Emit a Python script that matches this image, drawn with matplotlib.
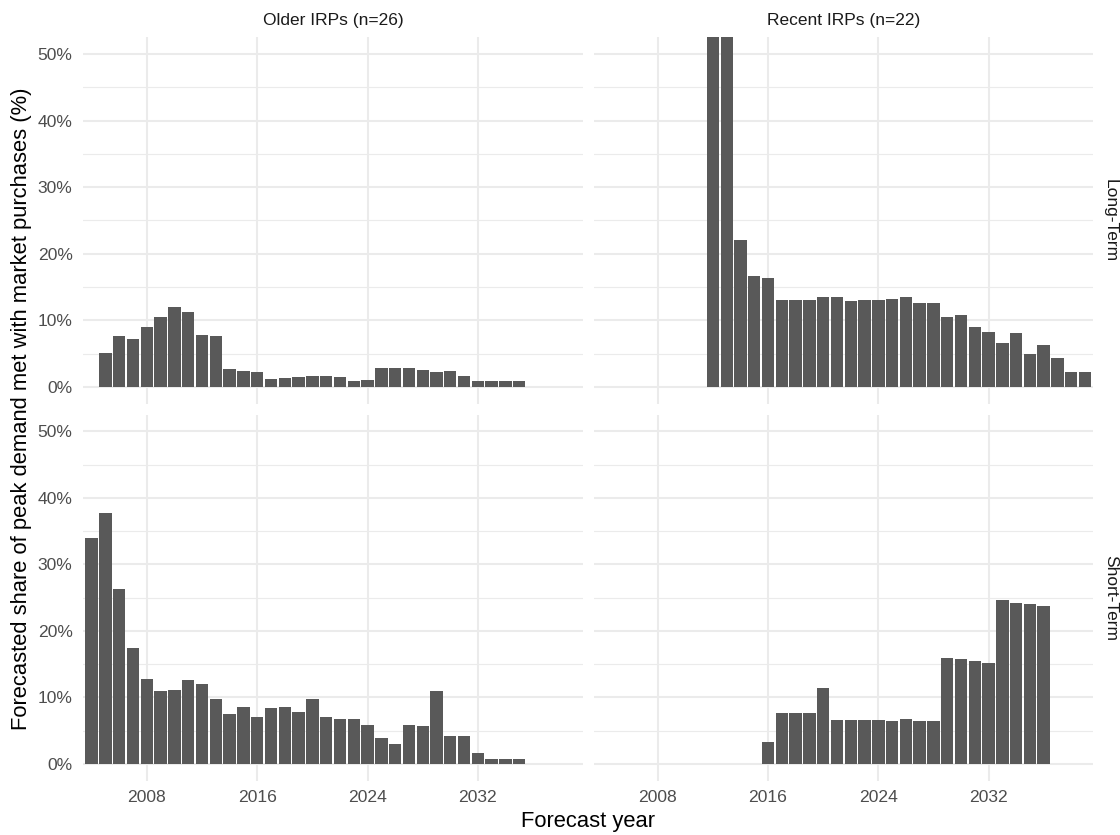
import numpy as np
import matplotlib
matplotlib.use("Agg")
import matplotlib.pyplot as plt
from matplotlib.ticker import FuncFormatter, MultipleLocator

plt.rcParams['font.family'] = ['Liberation Sans', 'DejaVu Sans']

# share of peak demand met with market purchases (%), one value per forecast year
older_long_start = 2005
older_long = [5.15, 7.6, 7.2, 8.95, 10.45, 11.95, 11.25, 7.75, 7.6, 2.7, 2.4, 2.2,
              1.15, 1.3, 1.45, 1.6, 1.65, 1.45, 0.95, 1.05, 2.9, 2.9, 2.8, 2.55,
              2.3, 2.4, 1.65, 0.95, 0.95, 0.95, 0.95]

recent_long_start = 2012
recent_long = [55.0, 55.0, 22.1, 16.65, 16.35, 13.0, 13.1, 13.0, 13.55, 13.45,
               12.9, 13.0, 13.0, 13.2, 13.45, 12.55, 12.55, 10.5, 10.85, 9.0,
               8.25, 6.55, 8.1, 4.95, 6.35, 4.4, 2.3, 2.2]

older_short_start = 2004
older_short = [33.9, 37.7, 26.3, 17.4, 12.8, 10.9, 11.1, 12.6, 12.0, 9.7, 7.5, 8.6,
               7.1, 8.4, 8.5, 7.8, 9.7, 7.1, 6.7, 6.7, 5.9, 3.95, 3.05, 5.85,
               5.75, 10.9, 4.25, 4.15, 1.7, 0.7, 0.7, 0.7]

recent_short_start = 2016
recent_short = [3.35, 7.7, 7.6, 7.6, 11.45, 6.65, 6.6, 6.6, 6.6, 6.5, 6.75, 6.5,
                6.45, 15.95, 15.75, 15.5, 15.25, 24.65, 24.25, 24.0, 23.7]

col_labels = ["Older IRPs (n=26)", "Recent IRPs (n=22)"]
row_labels = ["Long-Term", "Short-Term"]
x_ticks = [2008, 2016, 2024, 2032]
y_ticks = [0, 10, 20, 30, 40, 50]

panels = [[(older_long_start, older_long), (recent_long_start, recent_long)],
          [(older_short_start, older_short), (recent_short_start, recent_short)]]

W, H = 1120, 835
fig = plt.figure(figsize=(W / 100, H / 100), dpi=100)
fig.patch.set_facecolor('white')

# panel boxes in pixels (left, top, right, bottom)
col_px = [(83, 582.7), (594, 1093.3)]
row_px = [(37.3, 403.5), (414.7, 780.6)]

grid_col = '#ebebeb'
for r in range(2):
    for c in range(2):
        x0, x1 = col_px[c]
        y0, y1 = row_px[r]
        ax = fig.add_axes([x0 / W, 1 - y1 / H, (x1 - x0) / W, (y1 - y0) / H])
        start, vals = panels[r][c]
        years = np.arange(start, start + len(vals))
        ax.bar(years, vals, width=0.9, color='#595959', zorder=3)

        ax.set_xlim(2003.37, 2039.6)
        ax.set_ylim(-2.5, 52.5)
        ax.set_xticks(x_ticks)
        ax.set_yticks(y_ticks)
        ax.yaxis.set_minor_locator(MultipleLocator(5))
        ax.yaxis.set_major_formatter(FuncFormatter(lambda v, p: f"{v:.0f}%"))

        ax.grid(True, which='major', color=grid_col, linewidth=1.5, zorder=0)
        ax.grid(True, which='minor', axis='y', color=grid_col, linewidth=0.8, zorder=0)
        for s in ax.spines.values():
            s.set_visible(False)
        ax.tick_params(which='both', length=0, labelsize=12.6, colors='#4d4d4d')
        ax.tick_params(axis='x', pad=7)
        ax.tick_params(axis='y', pad=7.5)
        if r == 0:
            ax.tick_params(axis='x', labelbottom=False)
        if c == 1:
            ax.tick_params(axis='y', labelleft=False)

        # facet strips
        if r == 0:
            ax.text(0.5, 1 + 17 / (y1 - y0), col_labels[c], transform=ax.transAxes,
                    ha='center', va='center', fontsize=12.5, color='#1a1a1a')
        if c == 1:
            ax.text(1 + 17 / (x1 - x0), 0.5, row_labels[r], transform=ax.transAxes,
                    ha='center', va='center', rotation=270, fontsize=12.5, color='#1a1a1a')

fig.text(588 / W, 1 - 822 / H, "Forecast year", ha='center', va='center',
         fontsize=15.8, color='black')
fig.text(22 / W, 1 - 409 / H,
         "Forecasted share of peak demand met with market purchases (%)",
         ha='center', va='center', rotation=90, fontsize=15.8, color='black')

fig.savefig('out.png', dpi=100)
